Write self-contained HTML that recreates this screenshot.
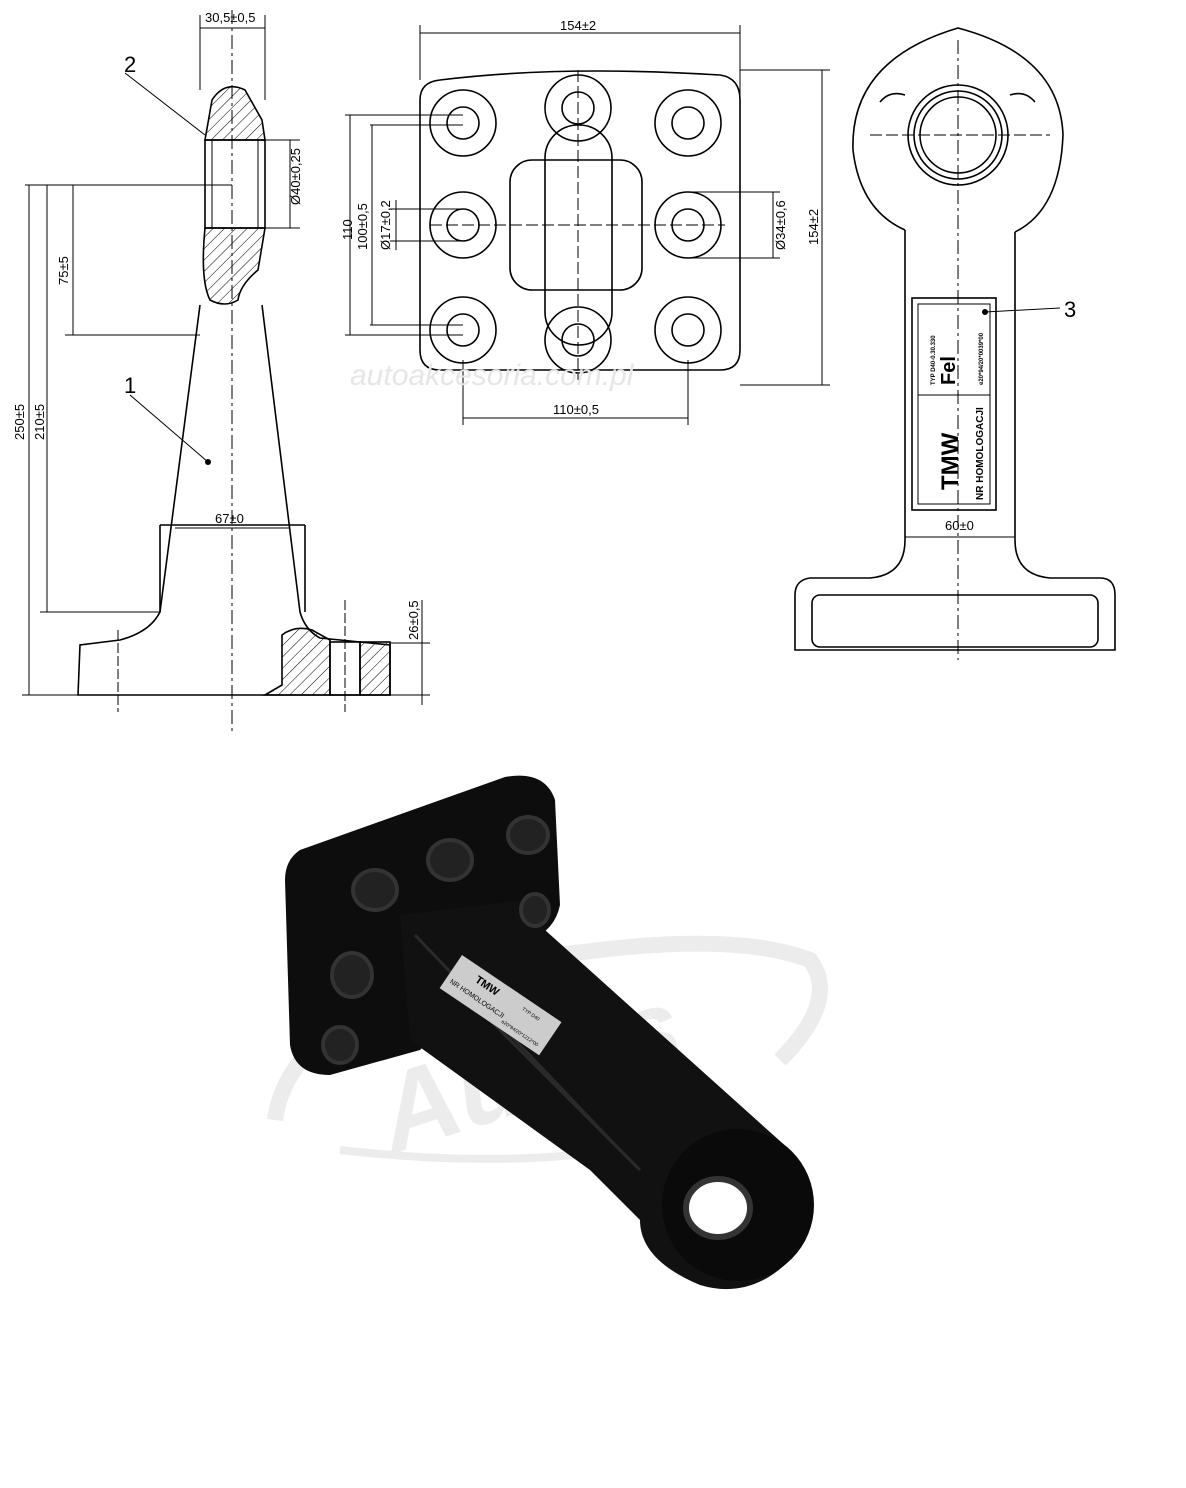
<!DOCTYPE html>
<html><head><meta charset="utf-8"><style>
html,body{margin:0;padding:0;background:#fff}
svg{display:block}
text{font-family:"Liberation Sans",sans-serif}
</style></head><body>
<svg width="1186" height="1488" viewBox="0 0 1186 1488" xmlns="http://www.w3.org/2000/svg">
<defs>
<pattern id="h" width="8" height="8" patternUnits="userSpaceOnUse" patternTransform="rotate(45)">
<line x1="0" y1="0" x2="0" y2="8" stroke="#000" stroke-width="1"/></pattern>
</defs>
<g fill="none" stroke="#000" stroke-width="1.6">
<line x1="232" y1="10" x2="232" y2="735" stroke-dasharray="14,4,3,4" stroke-width="1"/>
<path d="M212 100 Q225 80 245 90 L262 120 L265 140 L205 140 Z" fill="url(#h)"/>
<path d="M205 228 L265 228 L258 270 Q240 285 238 300 Q225 308 210 300 Q200 280 205 228Z" fill="url(#h)"/>
<rect x="205" y="140" width="60" height="88"/>
<line x1="212" y1="140" x2="212" y2="228" stroke-width="1"/>
<line x1="258" y1="140" x2="258" y2="228" stroke-width="1"/>
<path d="M200 305 L160 612 Q150 632 120 640 L80 645 L78 695 L390 695 L390 645 L320 638 Q305 630 300 612 L262 305"/>
<line x1="160" y1="525" x2="305" y2="525"/>
<line x1="160" y1="525" x2="160" y2="612"/>
<line x1="305" y1="525" x2="305" y2="612"/>
<path d="M282 635 Q295 625 312 630 L330 640 L330 695 L265 695 L282 685 Z" fill="url(#h)"/>
<rect x="360" y="642" width="30" height="53" fill="url(#h)"/>
<rect x="330" y="642" width="30" height="53"/>
<g stroke-width="1">
<line x1="200" y1="15" x2="200" y2="90"/><line x1="265" y1="15" x2="265" y2="100"/>
<line x1="200" y1="28" x2="265" y2="28"/>
<line x1="265" y1="140" x2="300" y2="140"/><line x1="265" y1="228" x2="300" y2="228"/>
<line x1="290" y1="140" x2="290" y2="228"/>
<line x1="25" y1="185" x2="232" y2="185"/>
<line x1="65" y1="335" x2="200" y2="335"/>
<line x1="40" y1="612" x2="160" y2="612"/>
<line x1="22" y1="695" x2="78" y2="695"/>
<line x1="73" y1="185" x2="73" y2="335"/>
<line x1="47" y1="185" x2="47" y2="612"/>
<line x1="29" y1="185" x2="29" y2="695"/>
<line x1="175" y1="528" x2="290" y2="528"/>
<line x1="390" y1="643" x2="430" y2="643"/><line x1="390" y1="695" x2="430" y2="695"/>
<line x1="422" y1="600" x2="422" y2="705"/>
<line x1="118" y1="630" x2="118" y2="712" stroke-dasharray="10,3"/>
<line x1="345" y1="600" x2="345" y2="712" stroke-dasharray="10,3"/>
<line x1="130" y1="395" x2="208" y2="462"/>
<line x1="125" y1="73" x2="205" y2="135"/>
</g>
</g>
<circle cx="208" cy="462" r="3"/>
<g font-size="13">
<text x="205" y="22">30,5±0,5</text>
<text x="124" y="72" font-size="22">2</text>
<text x="124" y="393" font-size="22">1</text>
<text x="215" y="523">67±0</text>
<text transform="translate(300,205) rotate(-90)">Ø40±0,25</text>
<text transform="translate(68,285) rotate(-90)">75±5</text>
<text transform="translate(44,440) rotate(-90)">210±5</text>
<text transform="translate(24,440) rotate(-90)">250±5</text>
<text transform="translate(418,640) rotate(-90)">26±0,5</text>
</g>
<g fill="none" stroke="#000" stroke-width="1.6">
<path d="M440 80 Q560 65 720 75 Q740 78 740 100 L740 350 Q740 370 720 370 L440 370 Q420 370 420 350 L420 100 Q420 82 440 80Z"/>
<rect x="510" y="160" width="132" height="130" rx="22"/>
<rect x="545" y="125" width="67" height="220" rx="33"/>
<g>
<circle cx="463" cy="123" r="33"/><circle cx="463" cy="123" r="16"/>
<circle cx="578" cy="108" r="33"/><circle cx="578" cy="108" r="16"/>
<circle cx="688" cy="123" r="33"/><circle cx="688" cy="123" r="16"/>
<circle cx="463" cy="225" r="33"/><circle cx="463" cy="225" r="16"/>
<circle cx="688" cy="225" r="33"/><circle cx="688" cy="225" r="16"/>
<circle cx="463" cy="330" r="33"/><circle cx="463" cy="330" r="16"/>
<circle cx="578" cy="340" r="33"/><circle cx="578" cy="340" r="16"/>
<circle cx="688" cy="330" r="33"/><circle cx="688" cy="330" r="16"/>
</g>
<g stroke-width="1">
<line x1="430" y1="225" x2="725" y2="225" stroke-dasharray="12,4"/>
<line x1="578" y1="70" x2="578" y2="380" stroke-dasharray="12,4"/>
<line x1="420" y1="25" x2="420" y2="80"/><line x1="740" y1="25" x2="740" y2="100"/>
<line x1="420" y1="33" x2="740" y2="33"/>
<line x1="740" y1="70" x2="830" y2="70"/><line x1="740" y1="385" x2="830" y2="385"/>
<line x1="822" y1="70" x2="822" y2="385"/>
<line x1="345" y1="115" x2="463" y2="115"/><line x1="345" y1="335" x2="463" y2="335"/>
<line x1="350" y1="115" x2="350" y2="335"/>
<line x1="370" y1="125" x2="463" y2="125"/><line x1="370" y1="325" x2="463" y2="325"/>
<line x1="372" y1="125" x2="372" y2="325"/>
<line x1="390" y1="209" x2="463" y2="209"/><line x1="390" y1="241" x2="463" y2="241"/>
<line x1="396" y1="200" x2="396" y2="250"/>
<line x1="688" y1="192" x2="780" y2="192"/><line x1="688" y1="258" x2="780" y2="258"/>
<line x1="773" y1="192" x2="773" y2="258"/>
<line x1="463" y1="360" x2="463" y2="425"/><line x1="688" y1="360" x2="688" y2="425"/>
<line x1="463" y1="418" x2="688" y2="418"/>
</g>
</g>
<g font-size="13">
<text x="560" y="30">154±2</text>
<text x="553" y="414">110±0,5</text>
<text transform="translate(352,240) rotate(-90)">110</text>
<text transform="translate(367,250) rotate(-90)">100±0,5</text>
<text transform="translate(390,250) rotate(-90)">Ø17±0,2</text>
<text transform="translate(785,250) rotate(-90)">Ø34±0,6</text>
<text transform="translate(818,245) rotate(-90)">154±2</text>
</g>
<text x="350" y="385" font-size="30" font-style="italic" fill="#e6e6e6">autoakcesoria.com.pl</text>
<g fill="none" stroke="#000" stroke-width="1.6">
<path d="M905 230 Q860 210 853 150 Q850 60 958 28 Q1060 55 1063 135 Q1060 210 1015 232"/>
<path d="M880 102 Q890 90 905 95" />
<path d="M1035 102 Q1025 90 1010 95"/>
<circle cx="958" cy="135" r="50"/><circle cx="958" cy="135" r="44"/><circle cx="958" cy="135" r="38"/>
<path d="M905 230 L905 540 Q905 575 870 578 L810 578 Q795 580 795 595 L795 650 L1115 650 L1115 595 Q1115 578 1100 578 L1050 578 Q1015 575 1015 540 L1015 232"/>
<rect x="812" y="595" width="286" height="52" rx="8"/>
<rect x="912" y="298" width="84" height="212"/>
<rect x="918" y="304" width="72" height="200" stroke-width="1"/>
<line x1="918" y1="395" x2="990" y2="395" stroke-width="1"/>
<g stroke-width="1">
<line x1="958" y1="40" x2="958" y2="660" stroke-dasharray="14,4,3,4"/>
<line x1="870" y1="135" x2="1050" y2="135" stroke-dasharray="12,4"/>
<line x1="905" y1="537" x2="1015" y2="537"/>
<line x1="985" y1="312" x2="1060" y2="308"/>
</g>
</g>
<circle cx="985" cy="312" r="3"/>
<text x="1064" y="317" font-size="22">3</text>
<text x="945" y="530" font-size="13">60±0</text>
<g font-weight="bold">
<text transform="translate(958,490) rotate(-90)" font-size="24">TMW</text>
<text transform="translate(983,500) rotate(-90)" font-size="10">NR HOMOLOGACJI</text>
<text transform="translate(955,385) rotate(-90)" font-size="20">Fel</text>
<text transform="translate(935,385) rotate(-90)" font-size="6">TYP D40-0.30.330</text>
<text transform="translate(983,385) rotate(-90)" font-size="6">e20*94/20*0039*00</text>
</g>
<!-- PHOTO -->
<g fill="none" stroke="#ececec">
<path d="M275 1120 Q290 1010 500 965 Q720 925 810 960 Q840 1000 780 1060" stroke-width="16"/>
<path d="M340 1150 Q560 1175 700 1130" stroke-width="8"/>
</g>
<text x="370" y="1110" font-size="110" font-style="italic" font-weight="bold" fill="#ececec" transform="rotate(-18 520 1060)">Autos</text>
<path d="M300 850 L505 777 Q545 770 555 800 L560 905 Q555 930 530 940 L420 1050 L330 1075 Q295 1075 290 1045 L285 880 Q285 860 300 850Z" fill="#0d0d0d"/>
<path d="M400 915 L525 900 L545 930 L790 1150 Q820 1200 790 1260 Q750 1300 700 1285 Q640 1260 640 1220 L590 1170 L410 1040 Z" fill="#111"/>
<circle cx="738" cy="1205" r="76" fill="#0a0a0a"/>
<ellipse cx="718" cy="1208" rx="32" ry="29" fill="#fff" stroke="#333" stroke-width="6"/>
<g stroke="#2a2a2a" stroke-width="3" fill="none">
<line x1="415" y1="935" x2="620" y2="1150"/>
<line x1="470" y1="1000" x2="640" y2="1170"/>
</g>
<g fill="#222" stroke="#333" stroke-width="4">
<ellipse cx="375" cy="890" rx="22" ry="20"/><ellipse cx="450" cy="860" rx="22" ry="20"/><ellipse cx="528" cy="835" rx="20" ry="18"/>
<ellipse cx="352" cy="975" rx="20" ry="22"/><ellipse cx="340" cy="1045" rx="17" ry="18"/><ellipse cx="535" cy="910" rx="14" ry="16"/>
</g>
<g transform="translate(462,955) rotate(34)">
<rect x="0" y="0" width="120" height="40" fill="#ccc"/>
<text x="25" y="15" font-size="11" font-weight="bold" fill="#000">TMW</text>
<text x="5" y="30" font-size="7" fill="#000">NR HOMOLOGACJI</text>
<text x="80" y="12" font-size="5" fill="#000">TYP D40</text>
<text x="70" y="34" font-size="5" fill="#000">e20*94/20*1212*00</text>
</g>
</svg>
</body></html>
